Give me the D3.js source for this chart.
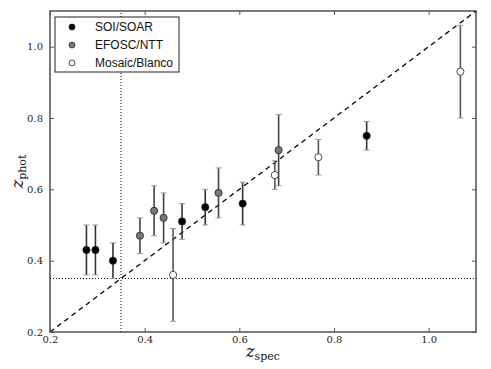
<!DOCTYPE html>
<html>
<head>
<meta charset="utf-8">
<script src="https://cdn.jsdelivr.net/npm/d3@7"></script>
<style>
  body { margin: 0; background: #fff; }
  svg { display: block; }
</style>
</head>
<body>
<div id="chart"></div>
<script>

// instruments (legend order)
var instruments = ["SOI/SOAR", "EFOSC/NTT", "Mosaic/Blanco"];

// z_spec, z_phot and symmetric errors for each instrument
var soiSpec   = [0.277, 0.296, 0.333, 0.479, 0.528, 0.607, 0.869];
var soiPhot   = [0.43, 0.43, 0.40, 0.51, 0.55, 0.56, 0.75];
var soiErr    = [0.07, 0.07, 0.05, 0.05, 0.05, 0.06, 0.04];

var efoscSpec = [0.390, 0.420, 0.440, 0.556, 0.683];
var efoscPhot = [0.47, 0.54, 0.52, 0.59, 0.71];
var efoscErr  = [0.05, 0.07, 0.07, 0.07, 0.10];

var mosaicSpec = [0.460, 0.675, 0.767, 1.067];
var mosaicPhot = [0.36, 0.64, 0.69, 0.93];
var mosaicErr  = [0.13, 0.04, 0.05, 0.13];

var xTicks = [0.2, 0.4, 0.6, 0.8, 1.0];
var yTicks = [0.2, 0.4, 0.6, 0.8, 1.0];
var zCut = 0.35;

var width = 491, height = 369;
var margin = {top: 11, right: 15, bottom: 37, left: 50};

var x = d3.scaleLinear().domain([0.2, 1.1]).range([margin.left, width - margin.right]);
var y = d3.scaleLinear().domain([0.2, 1.1]).range([height - margin.bottom, margin.top]);

var svg = d3.select("#chart").append("svg")
    .attr("width", width)
    .attr("height", height);

// reference lines
svg.append("line")
    .attr("x1", x(0.2)).attr("y1", y(0.2))
    .attr("x2", x(1.1)).attr("y2", y(1.1))
    .style("stroke", "#000")
    .style("stroke-width", 1.3)
    .style("stroke-dasharray", "5,4");

svg.append("line")
    .attr("x1", x(zCut)).attr("x2", x(zCut))
    .attr("y1", y(0.2)).attr("y2", y(1.1))
    .style("stroke", "#000")
    .style("stroke-width", 1)
    .style("stroke-dasharray", "1,2");

svg.append("line")
    .attr("x1", x(0.2)).attr("x2", x(1.1))
    .attr("y1", y(zCut)).attr("y2", y(zCut))
    .style("stroke", "#000")
    .style("stroke-width", 1)
    .style("stroke-dasharray", "1,2");

// build series
var series = [
  {name: instruments[0], spec: soiSpec, phot: soiPhot, err: soiErr, fill: "#000", bar: "#333"},
  {name: instruments[1], spec: efoscSpec, phot: efoscPhot, err: efoscErr, fill: "#777", bar: "#444"},
  {name: instruments[2], spec: mosaicSpec, phot: mosaicPhot, err: mosaicErr, fill: "#fff", bar: "#555"}
];

series.forEach(function(s) {
  var pts = s.spec.map(function(v, i) { return {x: v, y: s.phot[i], e: s.err[i]}; });
  var g = svg.append("g");

  g.selectAll("line.bar").data(pts).enter().append("line")
      .attr("x1", function(d) { return x(d.x); })
      .attr("x2", function(d) { return x(d.x); })
      .attr("y1", function(d) { return y(d.y - d.e); })
      .attr("y2", function(d) { return y(d.y + d.e); })
      .style("stroke", s.bar)
      .style("stroke-width", 1.6);

  [-1, 1].forEach(function(sign) {
    g.selectAll(null).data(pts).enter().append("line")
        .attr("x1", function(d) { return x(d.x) - 3; })
        .attr("x2", function(d) { return x(d.x) + 3; })
        .attr("y1", function(d) { return y(d.y + sign * d.e); })
        .attr("y2", function(d) { return y(d.y + sign * d.e); })
        .style("stroke", "#999")
        .style("stroke-width", 1);
  });

  g.selectAll("circle").data(pts).enter().append("circle")
      .attr("cx", function(d) { return x(d.x); })
      .attr("cy", function(d) { return y(d.y); })
      .attr("r", 3.6)
      .style("fill", s.fill)
      .style("stroke", "#222")
      .style("stroke-width", 0.8);
});

// frame
svg.append("rect")
    .attr("x", x(0.2)).attr("y", y(1.1))
    .attr("width", x(1.1) - x(0.2))
    .attr("height", y(0.2) - y(1.1))
    .style("fill", "none")
    .style("stroke", "#333")
    .style("stroke-width", 1.3);

// axes with inward ticks on all four sides
var fontTick = "'DejaVu Serif', 'Liberation Serif', serif";

function styleAxis(g) {
  g.select(".domain").remove();
  g.selectAll(".tick line").style("stroke", "#555");
  g.selectAll(".tick text")
      .style("font-family", fontTick)
      .style("font-size", "10px")
      .style("fill", "#222");
}

svg.append("g")
    .attr("transform", "translate(0," + y(0.2) + ")")
    .call(d3.axisBottom(x).tickValues(xTicks).tickFormat(d3.format(".1f")).tickSizeInner(-4).tickPadding(4))
    .call(styleAxis);

svg.append("g")
    .attr("transform", "translate(0," + y(1.1) + ")")
    .call(d3.axisTop(x).tickValues(xTicks).tickFormat("").tickSizeInner(-4))
    .call(styleAxis);

svg.append("g")
    .attr("transform", "translate(" + x(0.2) + ",0)")
    .call(d3.axisLeft(y).tickValues(yTicks).tickFormat(d3.format(".1f")).tickSizeInner(-4).tickPadding(7))
    .call(styleAxis);

svg.append("g")
    .attr("transform", "translate(" + x(1.1) + ",0)")
    .call(d3.axisRight(y).tickValues(yTicks).tickFormat("").tickSizeInner(-4))
    .call(styleAxis);

// axis labels
var xl = svg.append("text")
    .attr("x", (x(0.2) + x(1.1)) / 2)
    .attr("y", 357)
    .attr("text-anchor", "middle")
    .style("font-family", fontTick)
    .style("font-size", "16px")
    .style("fill", "#111");
xl.append("tspan").text("z").style("font-style", "italic");
xl.append("tspan").text("spec").attr("dy", "3").style("font-size", "11px");

var yl = svg.append("text")
    .attr("transform", "translate(23," + ((y(0.2) + y(1.1)) / 2) + ") rotate(-90)")
    .attr("text-anchor", "middle")
    .style("font-family", fontTick)
    .style("font-size", "16px")
    .style("fill", "#111");
yl.append("tspan").text("z").style("font-style", "italic");
yl.append("tspan").text("phot").attr("dy", "3").style("font-size", "11px");

// legend
var legend = svg.append("g").attr("transform", "translate(55,17)");
legend.append("rect")
    .attr("width", 124).attr("height", 55)
    .style("fill", "#fff")
    .style("stroke", "#222")
    .style("stroke-width", 1);

var items = legend.selectAll("g.item").data(series).enter().append("g")
    .attr("transform", function(d, i) { return "translate(0," + (10 + i * 18) + ")"; });

items.append("circle")
    .attr("cx", 17).attr("cy", 0).attr("r", 3)
    .style("fill", function(d) { return d.fill; })
    .style("stroke", "#222")
    .style("stroke-width", 0.8);

items.append("text")
    .attr("x", 40).attr("y", 4)
    .text(function(d) { return d.name; })
    .style("font-family", "'Liberation Sans', Arial, sans-serif")
    .style("font-size", "12px")
    .style("fill", "#111");

</script>
</body>
</html>
